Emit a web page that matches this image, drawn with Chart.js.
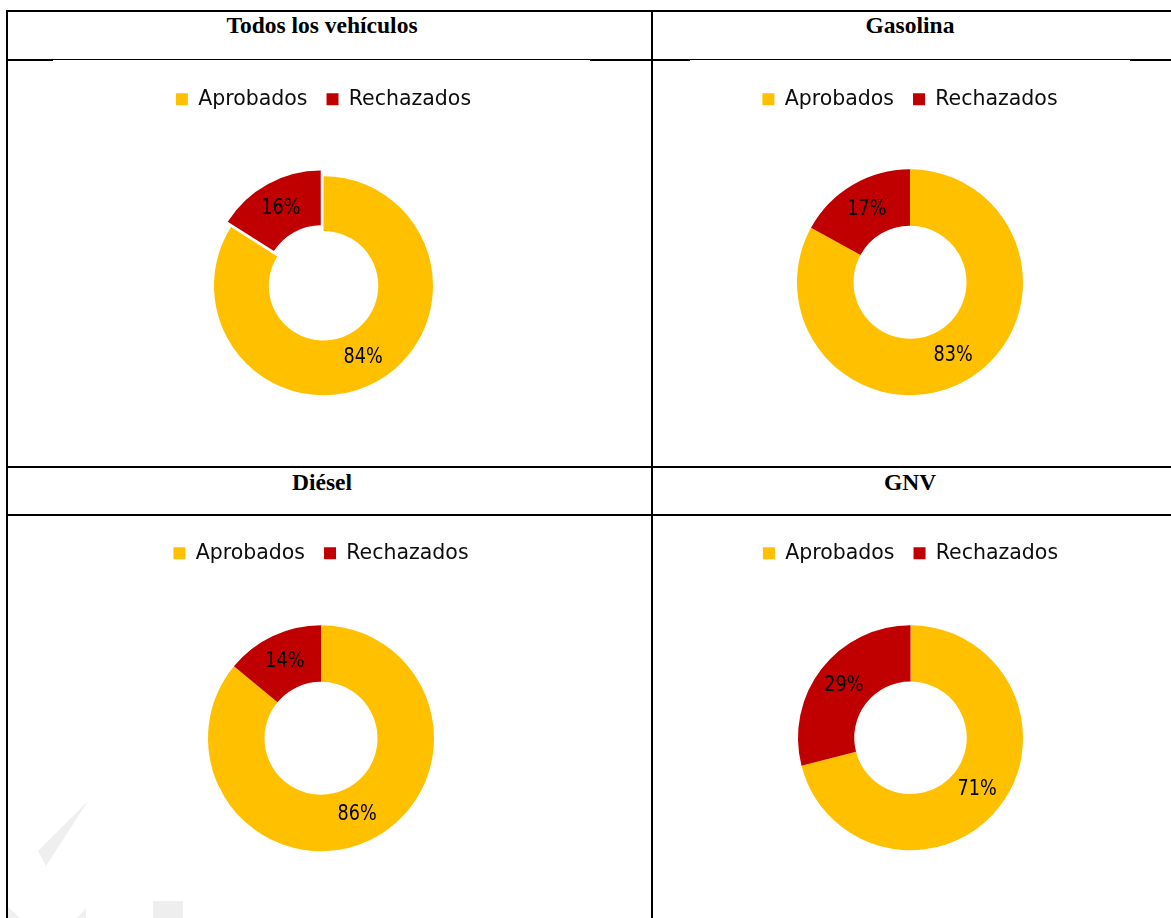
<!DOCTYPE html>
<html>
<head>
    <meta charset="utf-8">
    <title>Aprobados y rechazados por tipo de combustible</title>
    <script src="https://cdn.jsdelivr.net/npm/chart.js"></script>
    <style>
        html, body {
            margin: 0;
            padding: 0;
            background: #ffffff;
        }
        .page {
            position: relative;
            width: 1171px;
            height: 918px;
            overflow: hidden;
        }
        .rule {
            position: absolute;
            background: #000000;
        }
        .cell-title {
            position: absolute;
            font-family: "Liberation Serif", "Times New Roman", serif;
            font-weight: bold;
            font-size: 23.5px;
            line-height: 23px;
            text-align: center;
            color: #000000;
            white-space: nowrap;
        }
        .chart-box {
            position: absolute;
        }
        .watermark {
            position: absolute;
            left: 0;
            top: 0;
        }
    </style>
</head>
<body>
<div class="page">
    <!-- marca de agua tenue -->
    <svg class="watermark" width="1171" height="918">
        <polygon points="88,801 38,851 46,866" fill="#efefef"/>
        <polygon points="8,907 20,918 8,918" fill="#f0f0f0"/>
        <polygon points="86,908 77,918 86,918" fill="#f0f0f0"/>
        <rect x="153" y="901" width="30" height="17" fill="#eeeeee"/>
    </svg>

    <!-- bordes de la tabla -->
    <div class="rule" style="left:6px; top:10px; width:1165px; height:2px;"></div>
    <div class="rule" style="left:6px; top:10px; width:2px; height:908px;"></div>
    <div class="rule" style="left:651px; top:10px; width:2px; height:908px;"></div>
    <div class="rule" style="left:8px; top:59px; width:1163px; height:1px;"></div>
    <div class="rule" style="left:6px; top:59px; width:47px; height:2px;"></div>
    <div class="rule" style="left:590px; top:59px; width:100px; height:2px;"></div>
    <div class="rule" style="left:1130px; top:59px; width:41px; height:2px;"></div>
    <div class="rule" style="left:6px; top:466px; width:1165px; height:2px;"></div>
    <div class="rule" style="left:6px; top:514px; width:1165px; height:2px;"></div>

    <div class="cell-title" style="left:172px; width:300px; top:14px;">Todos los vehículos</div>
    <div class="cell-title" style="left:760px; width:300px; top:14px;">Gasolina</div>
    <div class="cell-title" style="left:172px; width:300px; top:471px;">Diésel</div>
    <div class="cell-title" style="left:760px; width:300px; top:471px;">GNV</div>

    <div class="chart-box" style="left:8px; top:70px; width:631px; height:382px;"><canvas id="chartTodos"></canvas></div>
    <div class="chart-box" style="left:655px; top:70px; width:510px; height:375px;"><canvas id="chartGasolina"></canvas></div>
    <div class="chart-box" style="left:8px; top:524px; width:626px; height:379px;"><canvas id="chartDiesel"></canvas></div>
    <div class="chart-box" style="left:655px; top:524px; width:511px; height:378px;"><canvas id="chartGnv"></canvas></div>
</div>

<script>
    // datos (porcentajes)
    const categories = ['Aprobados', 'Rechazados'];
    const todosValues = [84, 16];
    const gasolinaValues = [83, 17];
    const dieselValues = [86, 14];
    const gnvValues = [71, 29];

    const sliceColors = ['#FFC000', '#C00000'];

    // etiquetas de porcentaje en el centro del anillo
    const ringLabels = {
        id: 'ringLabels',
        afterDatasetsDraw(chart) {
            const ctx = chart.ctx;
            const meta = chart.getDatasetMeta(0);
            const values = chart.data.datasets[0].data;
            meta.data.forEach((arc, i) => {
                const p = arc.getProps(['x', 'y', 'startAngle', 'endAngle', 'innerRadius', 'outerRadius', 'circumference']);
                const mid = (p.startAngle + p.endAngle) / 2;
                const off = arc.options.offset || 0;
                const fix = 1 - Math.sin(Math.min(Math.PI, p.circumference));
                const shift = off / 4 * (1 + fix);
                const r = (p.innerRadius + p.outerRadius) / 2 + shift;
                ctx.save();
                ctx.translate(p.x + Math.cos(mid) * r, p.y + Math.sin(mid) * r);
                ctx.scale(0.84, 1);   // letra algo estrecha como en el original
                ctx.font = '21px "DejaVu Sans", Verdana, sans-serif';
                ctx.fillStyle = '#000000';
                ctx.textAlign = 'center';
                ctx.textBaseline = 'middle';
                ctx.fillText(values[i] + '%', 0, 0);
                ctx.restore();
            });
        }
    };

    function makeDoughnut(canvasId, values, radius, offsets) {
        return new Chart(document.getElementById(canvasId), {
            type: 'doughnut',
            data: {
                labels: categories,
                datasets: [{
                    data: values,
                    backgroundColor: sliceColors,
                    borderWidth: 0,
                    offset: offsets,
                    radius: radius
                }]
            },
            options: {
                responsive: true,
                maintainAspectRatio: false,
                animation: false,
                events: [],
                cutout: '50%',
                layout: { padding: 0 },
                plugins: {
                    legend: {
                        position: 'top',
                        labels: {
                            boxWidth: 12,
                            boxHeight: 12,
                            padding: 19,
                            color: '#0d0d0d',
                            font: { family: '"DejaVu Sans", Verdana, sans-serif', size: 20.5 }
                        }
                    },
                    tooltip: { enabled: false }
                }
            },
            plugins: [ringLabels]
        });
    }

    makeDoughnut('chartTodos', todosValues, 109.5, [0, 22]);
    makeDoughnut('chartGasolina', gasolinaValues, 113, [0, 0]);
    makeDoughnut('chartDiesel', dieselValues, 113, [0, 0]);
    makeDoughnut('chartGnv', gnvValues, 112.5, [0, 0]);
</script>
</body>
</html>
